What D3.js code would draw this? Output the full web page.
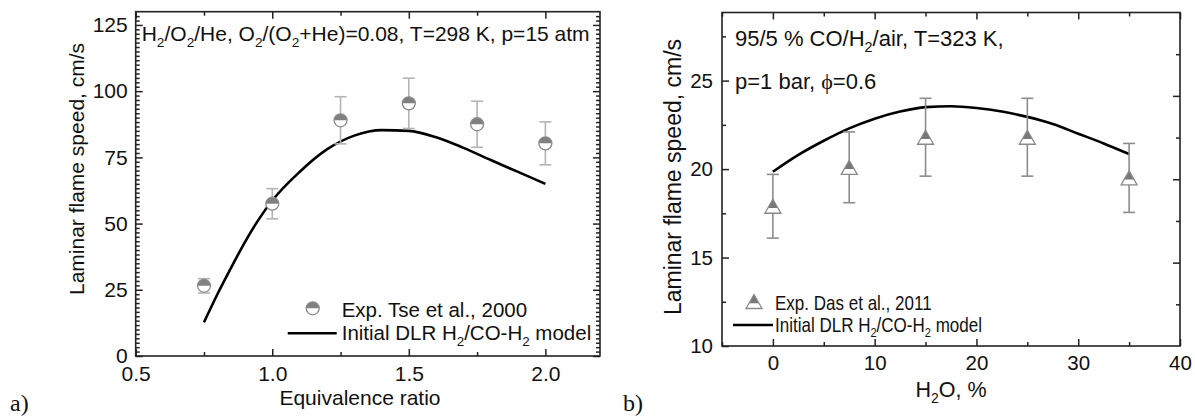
<!DOCTYPE html>
<html>
<head>
<meta charset="utf-8">
<script src="https://cdn.jsdelivr.net/npm/d3@7"></script>
<style>
  body { margin: 0; background: #fff; }
  svg text { font-family: "Liberation Sans", Arial, sans-serif; fill: #111; }
</style>
</head>
<body>
<svg id="chart" width="1195" height="417"></svg>
<script>
// ---- panel a) : H2/O2/He flames, Tse et al. 2000 ----
var phiExp = [0.75, 1.0, 1.25, 1.5, 1.75, 2.0];
var speedExp = [26.5, 57.5, 89.0, 95.4, 87.5, 80.3];
var speedExpErr = [2.7, 5.7, 8.9, 9.5, 8.7, 8.1];
var phiModel = [0.75, 0.8, 0.85, 0.9, 0.95, 1.0, 1.1, 1.2, 1.3, 1.4, 1.5, 1.6, 1.7, 1.8, 1.9, 2.0];
var speedModel = [12.7, 23.5, 33.5, 43.0, 51.5, 58.7, 69.5, 78.0, 83.2, 85.3, 85.0, 82.6, 78.6, 74.0, 69.5, 65.0];
var xTicksA = [0.5, 1.0, 1.5, 2.0];
var yTicksA = [0, 25, 50, 75, 100, 125];

// ---- panel b) : CO/H2/air with steam, Das et al. 2011 ----
var h2oExp = [0, 7.5, 15, 25, 35];
var speedDas = [17.9, 20.1, 21.8, 21.8, 19.5];
var speedDasErr = [1.8, 2.0, 2.2, 2.2, 1.95];
var h2oModel = [0, 2.5, 5, 7.5, 10, 12.5, 15, 17.5, 20, 22.5, 25, 27.5, 30, 32.5, 35];
var speedModelB = [19.85, 20.8, 21.6, 22.3, 22.85, 23.25, 23.5, 23.55, 23.45, 23.25, 22.95, 22.55, 22.0, 21.45, 20.85];
var xTicksB = [0, 10, 20, 30, 40];
var yTicksB = [10, 15, 20, 25];

var svg = d3.select("#chart");
var axisColor = "#222";
var sans = "'Liberation Sans', Arial, sans-serif";

// text with "_2" style subscripts
function richText(g, str, x, y, size) {
  var t = g.append("text").attr("x", x).attr("y", y)
    .style("font-family", sans).style("font-size", size + "px");
  var shift = 0;
  str.split(/(_\d)/).forEach(function(part) {
    if (!part) return;
    if (part[0] == "_") {
      t.append("tspan").attr("dy", size * 0.28 - shift).style("font-size", (size * 0.65) + "px").text(part.slice(1));
      shift = size * 0.28;
    } else {
      t.append("tspan").attr("dy", -shift).text(part);
      shift = 0;
    }
  });
  return t;
}

function styleAxis(g) {
  g.select(".domain").remove();
  g.selectAll(".tick line").attr("stroke", axisColor).attr("stroke-width", 1.5);
  g.selectAll(".tick text").attr("fill", "#111").style("font-family", sans);
}

// frame + inward ticks on all 4 sides
function drawFrame(g, x, y, yRight, o) {
  var w = x.range()[1] - x.range()[0], h = y.range()[0] - y.range()[1];
  g.append("g").attr("transform", "translate(0," + h + ")")
    .call(d3.axisBottom(x).tickValues(o.xMajor).tickSize(-7).tickPadding(o.xPad).tickFormat(o.xFmt))
    .call(styleAxis).selectAll("text").style("font-size", o.tickFont + "px");
  g.append("g").attr("transform", "translate(0," + h + ")")
    .call(d3.axisBottom(x).tickValues(o.xMinor).tickSize(-4).tickFormat("")).call(styleAxis);
  g.append("g")
    .call(d3.axisTop(x).tickValues(o.xMajor).tickSize(-7).tickFormat("")).call(styleAxis);
  g.append("g")
    .call(d3.axisTop(x).tickValues(o.xMinor).tickSize(-4).tickFormat("")).call(styleAxis);
  g.append("g")
    .call(d3.axisLeft(y).tickValues(o.yMajor).tickSize(-7).tickPadding(o.yPad))
    .call(styleAxis).selectAll("text").style("font-size", o.tickFont + "px");
  g.append("g")
    .call(d3.axisLeft(y).tickValues(o.yMinor).tickSize(-4).tickFormat("")).call(styleAxis);
  g.append("g").attr("transform", "translate(" + w + ",0)")
    .call(d3.axisRight(yRight).tickValues(o.yRMajor).tickSize(-7).tickFormat("")).call(styleAxis);
  g.append("g").attr("transform", "translate(" + w + ",0)")
    .call(d3.axisRight(yRight).tickValues(o.yRMinor).tickSize(-4).tickFormat("")).call(styleAxis);
  g.append("rect").attr("width", w).attr("height", h)
    .attr("fill", "none").attr("stroke", axisColor).attr("stroke-width", 1.6);
}

function errorBars(g, xs, ys, es, x, y, color) {
  var cap = 6;
  xs.forEach(function(xv, i) {
    var cx = x(xv), top = y(ys[i] + es[i]), bot = y(ys[i] - es[i]);
    var eb = g.append("g").attr("stroke", color).attr("stroke-width", 1.6).attr("fill", "none");
    eb.append("line").attr("x1", cx).attr("x2", cx).attr("y1", top).attr("y2", bot);
    eb.append("line").attr("x1", cx - cap).attr("x2", cx + cap).attr("y1", top).attr("y2", top);
    eb.append("line").attr("x1", cx - cap).attr("x2", cx + cap).attr("y1", bot).attr("y2", bot);
  });
}

// half filled circle (top half grey)
function halfCircle(g, cx, cy) {
  var r = 6.5;
  var m = g.append("g").attr("transform", "translate(" + cx + "," + cy + ")");
  m.append("circle").attr("r", r).attr("fill", "#fff");
  m.append("path").attr("d", "M" + (-r) + ",0A" + r + "," + r + " 0 0 1 " + r + ",0Z").attr("fill", "#808080");
  m.append("circle").attr("r", r).attr("fill", "none").attr("stroke", "#8a8a8a").attr("stroke-width", 1.3);
}

// triangle with grey upper part
function halfTriangle(g, cx, cy) {
  var hw = 8, hh = 7, f = 0.62;
  var m = g.append("g").attr("transform", "translate(" + cx + "," + cy + ")");
  m.append("path").attr("d", "M0," + (-hh) + "L" + hw + "," + hh + "L" + (-hw) + "," + hh + "Z").attr("fill", "#fff");
  var yc = -hh + 2 * hh * f, xc = hw * f;
  m.append("path").attr("d", "M0," + (-hh) + "L" + xc + "," + yc + "L" + (-xc) + "," + yc + "Z").attr("fill", "#777");
  m.append("path").attr("d", "M0," + (-hh) + "L" + hw + "," + hh + "L" + (-hw) + "," + hh + "Z")
    .attr("fill", "none").attr("stroke", "#8a8a8a").attr("stroke-width", 1.3);
}

// ================= panel a =================
var A = {left: 135.7, top: 11.7, width: 464.3, height: 344.3};
var gA = svg.append("g").attr("transform", "translate(" + A.left + "," + A.top + ")");
var xA = d3.scaleLinear().domain([0.5, 2.2]).range([0, A.width]);
var yA = d3.scaleLinear().domain([0, 130]).range([A.height, 0]);
var yAMinor = d3.range(0, 130, 25 / 15).filter(function(v) { return Math.abs(v / 25 - Math.round(v / 25)) > 0.01; });

drawFrame(gA, xA, yA, yA, {
  xMajor: xTicksA, xMinor: [0.75, 1.25, 1.75], xFmt: d3.format(".1f"), xPad: 10,
  yMajor: yTicksA, yMinor: yAMinor, yRMajor: yTicksA, yRMinor: yAMinor, yPad: 8, tickFont: 21
});

gA.append("path")
  .datum(phiModel.map(function(p, i) { return [p, speedModel[i]]; }))
  .attr("fill", "none").attr("stroke", "#000").attr("stroke-width", 2.6)
  .attr("d", d3.line().x(function(d) { return xA(d[0]); }).y(function(d) { return yA(d[1]); }).curve(d3.curveMonotoneX));

errorBars(gA, phiExp, speedExp, speedExpErr, xA, yA, "#b4b4b4");
phiExp.forEach(function(p, i) { halfCircle(gA, xA(p), yA(speedExp[i])); });

richText(gA, "H_2/O_2/He, O_2/(O_2+He)=0.08, T=298 K, p=15 atm", 6, 29, 21);

// legend a
halfCircle(gA, 177, 296.6);
gA.append("text").attr("x", 206).attr("y", 305).style("font-size", "20.5px").text("Exp. Tse et al., 2000");
gA.append("line").attr("x1", 152).attr("x2", 201).attr("y1", 321.6).attr("y2", 321.6)
  .attr("stroke", "#000").attr("stroke-width", 2.6);
richText(gA, "Initial DLR H_2/CO-H_2 model", 206, 328.5, 20.5);

svg.append("text").attr("x", 360).attr("y", 405).attr("text-anchor", "middle")
  .style("font-size", "21px").text("Equivalence ratio");
svg.append("text").attr("transform", "translate(84,169) rotate(-90)").attr("text-anchor", "middle")
  .style("font-size", "21px").text("Laminar flame speed, cm/s");
svg.append("text").attr("x", 10).attr("y", 411).style("font-family", "'Liberation Serif', 'Times New Roman', serif")
  .style("font-size", "24px").text("a)");

// ================= panel b =================
var B = {left: 722, top: 12.5, width: 458, height: 333.5};
var gB = svg.append("g").attr("transform", "translate(" + B.left + "," + B.top + ")");
var xB = d3.scaleLinear().domain([-5, 40]).range([0, B.width]);
var yB = d3.scaleLinear().domain([10, 28.85]).range([B.height, 0]);
var yBRight = d3.scaleLinear().domain([10, 30]).range([B.height, 0]); // right axis keeps its own scale

drawFrame(gB, xB, yB, yBRight, {
  xMajor: xTicksB, xMinor: [-5, 5, 15, 25, 35], xFmt: d3.format("d"), xPad: 9,
  yMajor: yTicksB, yMinor: [12.5, 17.5, 22.5, 27.5],
  yRMajor: [15, 20, 25], yRMinor: [12.5, 17.5, 22.5, 27.5], yPad: 9, tickFont: 20.5
});

gB.append("path")
  .datum(h2oModel.map(function(p, i) { return [p, speedModelB[i]]; }))
  .attr("fill", "none").attr("stroke", "#000").attr("stroke-width", 2.6)
  .attr("d", d3.line().x(function(d) { return xB(d[0]); }).y(function(d) { return yB(d[1]); }).curve(d3.curveMonotoneX));

errorBars(gB, h2oExp, speedDas, speedDasErr, xB, yB, "#8c8c8c");
h2oExp.forEach(function(p, i) { halfTriangle(gB, xB(p), yB(speedDas[i])); });

richText(gB, "95/5 % CO/H_2/air, T=323 K,", 13, 33, 22);
var t2 = gB.append("text").attr("x", 13).attr("y", 76).style("font-size", "22px");
t2.append("tspan").text("p=1 bar, ");
t2.append("tspan").style("font-family", "'Liberation Serif', serif").text("\u03d5");
t2.append("tspan").text("=0.6");

// legend b (narrow lettering)
halfTriangle(gB, 32, 289);
gB.append("text").attr("transform", "translate(53,297.5) scale(0.83,1)").style("font-size", "20.5px")
  .text("Exp. Das et al., 2011");
gB.append("line").attr("x1", 11).attr("x2", 51).attr("y1", 312.5).attr("y2", 312.5)
  .attr("stroke", "#000").attr("stroke-width", 2.6);
richText(gB, "Initial DLR H_2/CO-H_2 model", 0, 0, 20.5)
  .attr("transform", "translate(53,319) scale(0.83,1)");

richText(svg, "H_2O, %", 951, 397, 21.5).attr("text-anchor", "middle");
svg.append("text").attr("transform", "translate(681,177) rotate(-90)").attr("text-anchor", "middle")
  .style("font-size", "23px").text("Laminar flame speed, cm/s");
svg.append("text").attr("x", 623).attr("y", 411).style("font-family", "'Liberation Serif', 'Times New Roman', serif")
  .style("font-size", "24px").text("b)");
</script>
</body>
</html>
